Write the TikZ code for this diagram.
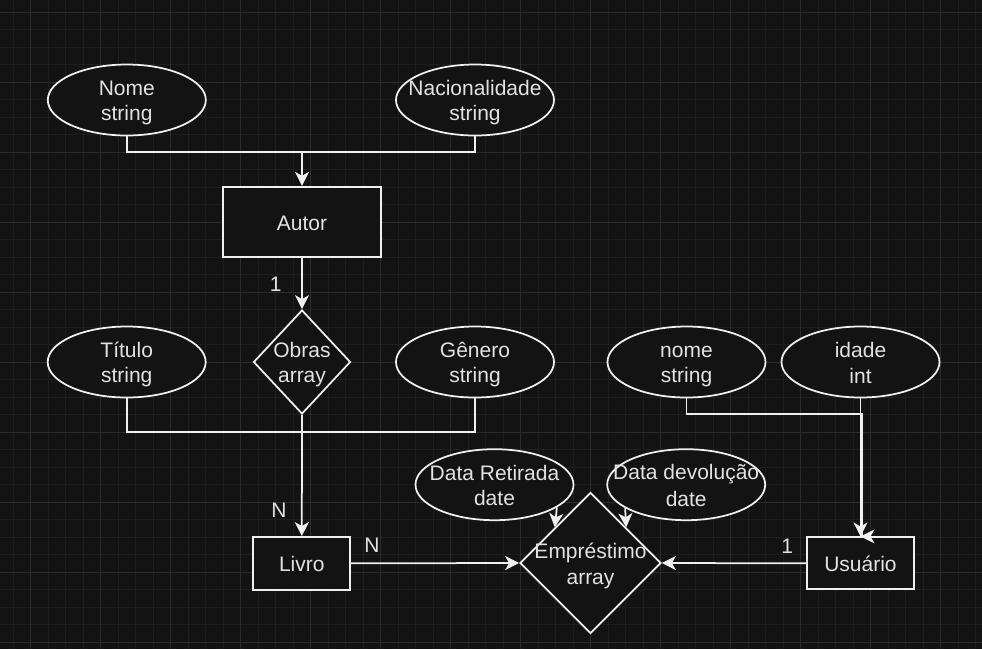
\documentclass[tikz,border=0pt]{standalone}
\usepackage{fontspec}
\setmainfont{Liberation Sans}
\usetikzlibrary{shapes.geometric,arrows.meta,calc}
\definecolor{bg}{HTML}{131313}
\definecolor{gmin}{HTML}{1E1E1E}
\definecolor{gmaj}{HTML}{2C2C2C}
\definecolor{fg}{HTML}{F0F0F0}
\definecolor{tc}{HTML}{E2E2E2}
\newcommand\zs{\rule[-4.1pt]{0pt}{25.2pt}}
\begin{document}
\begin{tikzpicture}[x=1pt,y=-1pt,
 txt/.style={text=tc,font=\fontsize{21}{25.2}\selectfont,align=center,inner sep=0pt},
 lbl/.style={text=tc,font=\fontsize{21}{25.2}\selectfont,inner sep=0pt},
 shp/.style={draw=fg,fill=bg,line width=1.75pt,inner sep=0pt},
 ent/.style={shp,rectangle},
 att/.style={shp,ellipse,minimum width=158pt,minimum height=71pt},
 rel/.style={shp,diamond},
 ln/.style={draw=fg,line width=1.75pt},
 arr/.style={ln,-{Stealth[length=14pt,width=14pt,inset=4pt]}},
]
\useasboundingbox (0,0) rectangle (982,649);
\fill[bg] (0,0) rectangle (982,649);
% grid
\foreach \i in {0,...,55} \draw[gmin,line width=1pt] ({13+17.5*\i},0) -- ({13+17.5*\i},649);
\foreach \j in {0,...,36} \draw[gmin,line width=1pt] (0,{12.3+17.5*\j}) -- (982,{12.3+17.5*\j});
\foreach \i in {0,...,13} \draw[gmaj,line width=1pt] ({30.5+70*\i},0) -- ({30.5+70*\i},649);
\foreach \j in {0,...,9} \draw[gmaj,line width=1pt] (0,{12.3+70*\j}) -- (982,{12.3+70*\j});

% nodes
\node[att,label={[txt]center:{\zs Nome\\string\zs}}] (nome) at (126.8,100) {};
\node[att,label={[txt]center:{\zs Nacionalidade\\string\zs}}] (nac) at (475,100) {};
\node[ent,minimum width=158pt,minimum height=70.6pt,label={[txt]center:{\zs Autor}}] (autor) at (302,222) {};
\node[rel,minimum width=97pt,minimum height=104pt,label={[txt]center:{\zs Obras\\array\zs}}] (obras) at (302,362) {};
\node[att,label={[txt]center:{\zs Título\\string\zs}}] (titulo) at (126.7,362) {};
\node[att,label={[txt]center:{\zs Gênero\\string\zs}}] (genero) at (475,362) {};
\node[ent,minimum width=97pt,minimum height=52.7pt,label={[txt]center:{\zs Livro}}] (livro) at (301.8,563.3) {};
\node[rel,minimum width=141pt,minimum height=141pt,label={[txt]center:{\zs Empréstimo\\array\zs}}] (emp) at (590.5,563) {};
\node[att,label={[txt]center:{\zs Data Retirada\\date\zs}}] (dr) at (494.5,484.7) {};
\node[att,label={[txt]center:{\zs Data devolução\\date\zs}}] (dv) at (686.2,484.7) {};
\node[att,label={[txt]center:{\zs nome\\string\zs}}] (nomeu) at (686.5,362) {};
\node[att,label={[txt]center:{\zs idade\\int\zs}}] (idade) at (860.5,362) {};
\node[ent,minimum width=107.6pt,minimum height=52pt,label={[txt]center:{\zs Usuário}}] (usuario) at (860.5,563.3) {};

% cardinality labels
\node[lbl] (c1) at (275.7,284) {1};
\node[lbl] (cn1) at (279,510.3) {N};
\node[lbl] (cn2) at (372,545.7) {N};
\node[lbl] (c2) at (787.3,546) {1};

% connectors
\coordinate (j1) at (302,152.3);
\draw[ln] (nome.south) |- (j1);
\draw[ln] (nac.south) |- (j1);
\draw[arr] (j1) -- (autor.north);

\draw[arr] (autor.south) -- (obras.north);

\coordinate (j2) at (302,432.3);
\draw[ln] (titulo.south) |- (j2);
\draw[ln] (genero.south) |- (j2);
\draw[arr] (obras.south) -- (livro.north);

\draw[arr] (livro.east) -- (emp.west);
\draw[arr] (usuario.west) -- (emp.east);

\draw[arr] (dr.-20.6) -- (emp.135);
\draw[arr] (dv.-159.4) -- (emp.45);

\coordinate (j3) at (862.3,414.3);
\draw[ln] (nomeu.south) |- (j3) -- (j3 |- usuario.north);
\draw[arr] (idade.south) -- (usuario.north);
\draw[arr] ($(usuario.north)+(16,0)$) -- (usuario.north);
\end{tikzpicture}
\end{document}
